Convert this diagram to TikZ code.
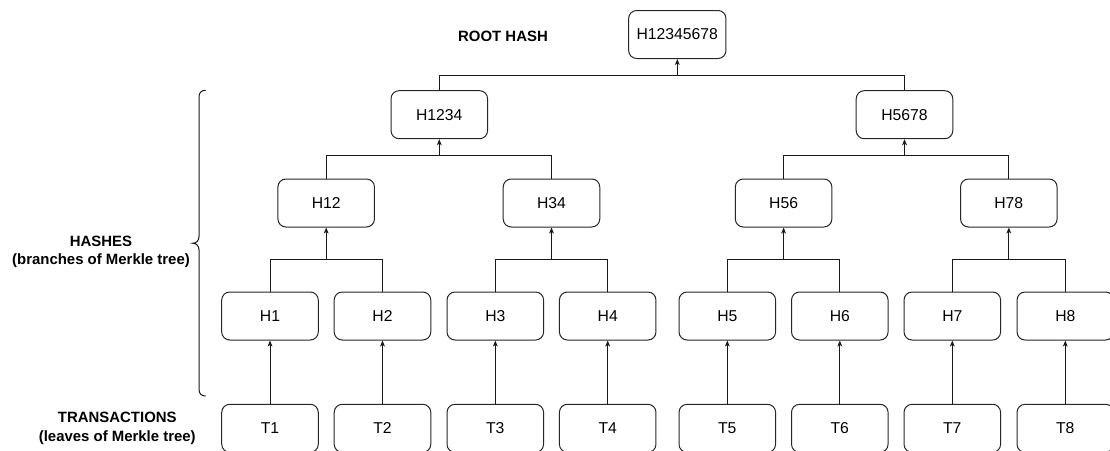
\documentclass[tikz,border=0pt]{standalone}
\usepackage{fontspec}
\setmainfont{Liberation Sans}
\usetikzlibrary{arrows.meta}
\begin{document}
\begin{tikzpicture}[x=0.75pt,y=-0.75pt,
  hashbox/.style={draw=black!85, line width=0.75pt, rounded corners=6pt,
    minimum width=72.4pt, minimum height=36pt, inner sep=0pt,
    font=\fontsize{11.8}{14}\selectfont},
  link/.style={draw=black!90, line width=0.75pt},
  uparrow/.style={link, -{Stealth[length=4.5pt,width=3.6pt,inset=1.2pt]}},
  tag/.style={font=\fontsize{11.2}{13.8}\selectfont\bfseries, align=center, inner sep=0pt}]
\useasboundingbox (0,0) rectangle (1110,450);
\clip (0,0) rectangle (1110,450);

% tree nodes
\node[hashbox, minimum width=73pt] (root) at (677.3,34.5) {H12345678};
\node[hashbox] (h1234) at (439.3,114.7) {H1234};
\node[hashbox] (h5678) at (904.5,114.7) {H5678};
\node[hashbox] (h12) at (326.2,203) {H12};
\node[hashbox] (h34) at (551.5,203) {H34};
\node[hashbox] (h56) at (783.6,203) {H56};
\node[hashbox] (h78) at (1008.8,203) {H78};
\foreach \i/\x in {1/270,2/382.5,3/495.3,4/607.7,5/727.3,6/839.8,7/952.3,8/1065.3}{
  \node[hashbox] (h\i) at (\x,316) {H\i};
  \node[hashbox] (t\i) at (\x,428.3) {T\i};
}

% junction points of the pairwise links
\path (root.south) ++(0,16.3) coordinate (jroot);
\path (h1234.south) ++(0,16.6) coordinate (j1234);
\path (h5678.south) ++(0,16.6) coordinate (j5678);
\foreach \p in {12,34,56,78}{
  \path (h\p.south) ++(0,31.7) coordinate (j\p);
}

% links
\draw[link] (h1234.north) |- (jroot) -| (h5678.north);
\draw[uparrow] (jroot) -- (root.south);
\draw[link] (h12.north) |- (j1234) -| (h34.north);
\draw[uparrow] (j1234) -- (h1234.south);
\draw[link] (h56.north) |- (j5678) -| (h78.north);
\draw[uparrow] (j5678) -- (h5678.south);
\foreach \a/\b/\p in {1/2/12,3/4/34,5/6/56,7/8/78}{
  \draw[link] (h\a.north) |- (j\p) -| (h\b.north);
  \draw[uparrow] (j\p) -- (h\p.south);
}
\foreach \i in {1,...,8}{
  \draw[uparrow] (t\i.north) -- (h\i.south);
}

% curly brace grouping the hash levels
\draw[link] (205.7,90.3) .. controls (201.5,90.3) and (199,92.5) .. (199,97)
  -- (199,236.5) .. controls (199,240.5) and (196.5,243.2) .. (192.7,243.2)
  .. controls (196.5,243.2) and (199,246) .. (199,250)
  -- (199,389.3) .. controls (199,393.8) and (201.5,396) .. (205.7,396);

% labels
\node[tag] (roothash) at (503,36) {ROOT HASH};
\node[tag] (hashes) at (101,252) {HASHES\\(branches of Merkle tree)};
\node[tag] (transactions) at (117.3,428.3) {TRANSACTIONS\\(leaves of Merkle tree)};
\end{tikzpicture}
\end{document}
